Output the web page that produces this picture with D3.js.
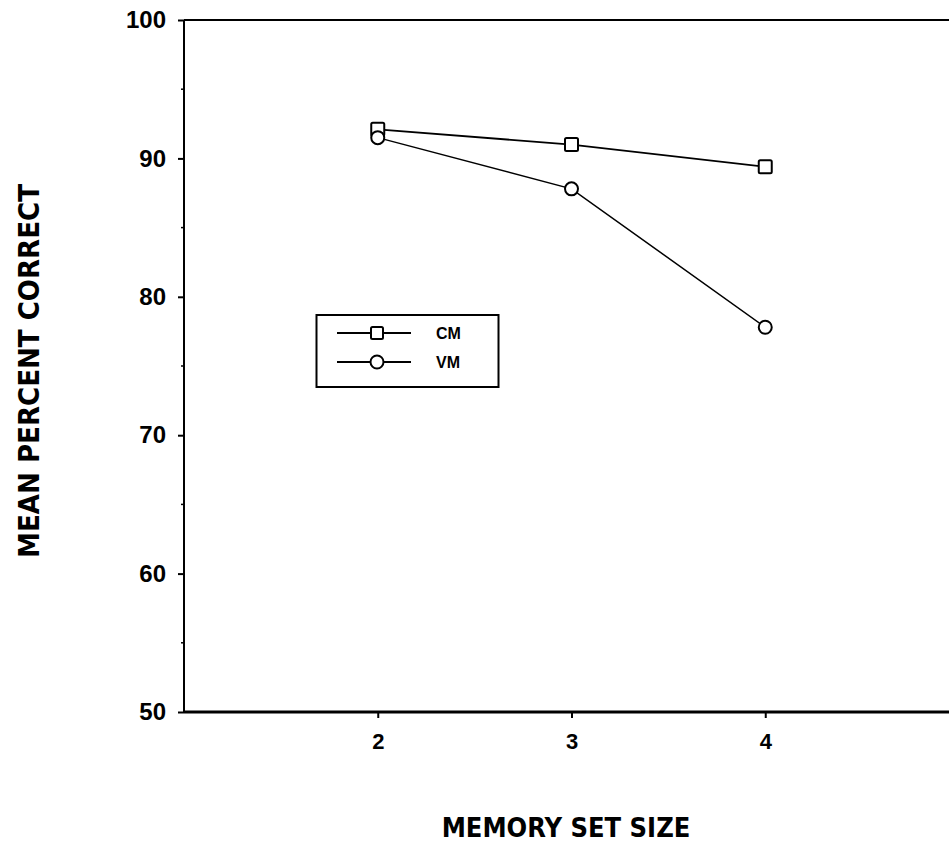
<!DOCTYPE html>
<html>
<head>
<meta charset="utf-8">
<script src="https://cdn.jsdelivr.net/npm/d3@7/dist/d3.min.js"></script>
<style>
  html, body { margin: 0; padding: 0; background: #fff; }
  svg { display: block; }
</style>
</head>
<body>
<svg id="chart" width="949" height="845"></svg>
<script>
// ---- data ----
const setSizes = [2, 3, 4];
const cmValues = [92.1, 91.0, 89.4];
const vmValues = [91.5, 87.8, 77.8];
const yTicks = [50, 60, 70, 80, 90, 100];
const yMinorTicks = [55, 65, 75, 85, 95];
const xTicks = [2, 3, 4];
const seriesNames = ["CM", "VM"];

const svg = d3.select("#chart");
const x = d3.scaleLinear().domain([1, 5]).range([184, 959]);
const y = d3.scaleLinear().domain([50, 100]).range([712, 20]);

// Top frame line
svg.append("line")
  .attr("x1", x(1)).attr("x2", 949)
  .attr("y1", y(100)).attr("y2", y(100))
  .attr("stroke", "#000").attr("stroke-width", 2);

// Y axis
const yAxis = svg.append("g")
  .attr("transform", `translate(${x(1)},0)`)
  .call(d3.axisLeft(y).tickValues(yTicks).tickSize(6).tickPadding(12).tickFormat(d3.format("d")));
yAxis.select(".domain").attr("stroke-width", 2).attr("d", `M0,${y(50)}V${y(100)}`);
yAxis.selectAll(".tick line").attr("stroke-width", 2);
yAxis.selectAll("text").attr("font-family", "Liberation Sans, Arial, sans-serif")
  .attr("font-weight", "bold").attr("font-size", 24).attr("fill", "#000");

// minor y ticks
svg.append("g").selectAll("line").data(yMinorTicks).join("line")
  .attr("x1", x(1) - 3).attr("x2", x(1))
  .attr("y1", d => y(d)).attr("y2", d => y(d))
  .attr("stroke", "#000").attr("stroke-width", 1.5);

// X axis
const xAxis = svg.append("g")
  .attr("transform", `translate(0,${y(50)})`)
  .call(d3.axisBottom(x).tickValues(xTicks).tickSize(6).tickPadding(15).tickFormat(d3.format("d")));
xAxis.select(".domain").attr("stroke-width", 3).attr("d", `M${x(1)},0H949`);
xAxis.selectAll(".tick line").attr("stroke-width", 2);
xAxis.selectAll("text").attr("font-family", "Liberation Sans, Arial, sans-serif")
  .attr("font-weight", "bold").attr("font-size", 22).attr("fill", "#000");

// Axis titles
svg.append("text")
  .attr("x", 566).attr("y", 837)
  .attr("text-anchor", "middle")
  .attr("font-family", "DejaVu Sans Condensed, DejaVu Sans, sans-serif")
  .attr("font-weight", "bold").attr("font-size", 27)
  .attr("fill", "#000")
  .text("MEMORY SET SIZE");

svg.append("text")
  .attr("transform", "translate(39,371) rotate(-90)")
  .attr("text-anchor", "middle")
  .attr("font-family", "DejaVu Sans Condensed, DejaVu Sans, sans-serif")
  .attr("font-weight", "bold").attr("font-size", 29)
  .attr("fill", "#000")
  .text("MEAN PERCENT CORRECT");

// Lines
const line = d3.line().x((d, i) => x(setSizes[i])).y(d => y(d));
svg.append("path").datum(cmValues).attr("d", line)
  .attr("fill", "none").attr("stroke", "#000").attr("stroke-width", 1.8);
svg.append("path").datum(vmValues).attr("d", line)
  .attr("fill", "none").attr("stroke", "#000").attr("stroke-width", 1.5);

// Markers
const sq = 13;
svg.append("g").selectAll("rect").data(cmValues).join("rect")
  .attr("x", (d, i) => x(setSizes[i]) - sq / 2)
  .attr("y", d => y(d) - sq / 2)
  .attr("width", sq).attr("height", sq).attr("rx", 1.5)
  .attr("fill", "#fff").attr("stroke", "#000").attr("stroke-width", 2);
svg.append("g").selectAll("circle").data(vmValues).join("circle")
  .attr("cx", (d, i) => x(setSizes[i]))
  .attr("cy", d => y(d))
  .attr("r", 6.5)
  .attr("fill", "#fff").attr("stroke", "#000").attr("stroke-width", 2);

// Legend
const lg = svg.append("g");
lg.append("rect").attr("x", 316.5).attr("y", 315).attr("width", 182).attr("height", 72)
  .attr("fill", "#fff").attr("stroke", "#000").attr("stroke-width", 2);
const rows = [333, 362];
rows.forEach((ry, i) => {
  lg.append("line").attr("x1", 337).attr("x2", 411).attr("y1", ry).attr("y2", ry)
    .attr("stroke", "#000").attr("stroke-width", 1.8);
  if (i === 0) {
    lg.append("rect").attr("x", 377 - 6).attr("y", ry - 6).attr("width", 12).attr("height", 12)
      .attr("rx", 1.5).attr("fill", "#fff").attr("stroke", "#000").attr("stroke-width", 2);
  } else {
    lg.append("circle").attr("cx", 377).attr("cy", ry).attr("r", 6.5)
      .attr("fill", "#fff").attr("stroke", "#000").attr("stroke-width", 2);
  }
  lg.append("text").attr("x", 436).attr("y", ry + 6)
    .attr("font-family", "Liberation Sans, Arial, sans-serif")
    .attr("font-weight", "bold").attr("font-size", 16).attr("fill", "#000")
    .text(seriesNames[i]);
});
</script>
</body>
</html>
